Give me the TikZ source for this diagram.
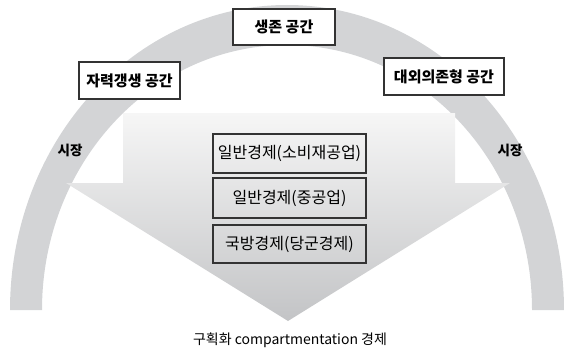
\documentclass[tikz,border=0pt]{standalone}
\usepackage{fontspec}
\setmainfont{Noto Sans CJK KR}
\usetikzlibrary{shapes}
\definecolor{archgray}{HTML}{D3D4D6}
\definecolor{boxline}{HTML}{333333}
\definecolor{arrowtop}{HTML}{F6F6F6}
\definecolor{arrowbot}{HTML}{C3C4C6}
\tikzset{
spacebox/.style={
	  draw=boxline, line width=1.6pt, fill=white, inner sep=0pt,
	    minimum height=36pt, font=\bfseries\fontsize{15}{17}\selectfont},
econbox/.style={
	  draw=boxline, line width=1.6pt, inner sep=0pt,
	    minimum width=153pt, font=\fontsize{16}{18}\selectfont},
marketlabel/.style={font=\bfseries\fontsize{13.5}{15}\selectfont}
}

\begin{document}
\begin{tikzpicture}[x=1pt, y=-1pt]
	\useasboundingbox (0,0) rectangle (564,353);
	% the market arch
	\fill[archgray] (10,310) arc[start angle=180, end angle=360, x radius=277, y radius=305]
		-- (532,310) arc[start angle=0, end angle=-180, x radius=245, y radius=265] -- cycle;
	% the big down arrow
	\shade[top color=arrowtop, bottom color=arrowbot] (123,113) -- (455,113) -- (455,183)
		-- (510,183) -- (288,321) -- (66,183) -- (123,183) -- cycle;
	\node[spacebox, minimum width=102pt] (survival) at (284,27) {생존 공간};
	\node[spacebox, minimum width=101pt, minimum height=37pt] (selfreliant) at (129.5,80.5) {자력갱생 공간};
	\node[spacebox, minimum width=120pt, minimum height=37pt] (dependent) at (444,76.5) {대외의존형 공간};
	\node[marketlabel] (marketL) at (70,150) {시장};
	\node[marketlabel] (marketR) at (510,150) {시장};
	\node[econbox, minimum height=39pt] (consumer) at (289.5,153.5) {일반경제(소비재공업)};
	\node[econbox, minimum height=40pt] (heavy) at (289.5,198) {일반경제(중공업)};
	\node[econbox, minimum height=38pt] (defense) at (289.5,244) {국방경제(당군경제)};
	\node[font=\fontsize{14}{16}\selectfont] (compart) at (290,340) {구획화 compartmentation 경제};
\end{tikzpicture}
\end{document}
